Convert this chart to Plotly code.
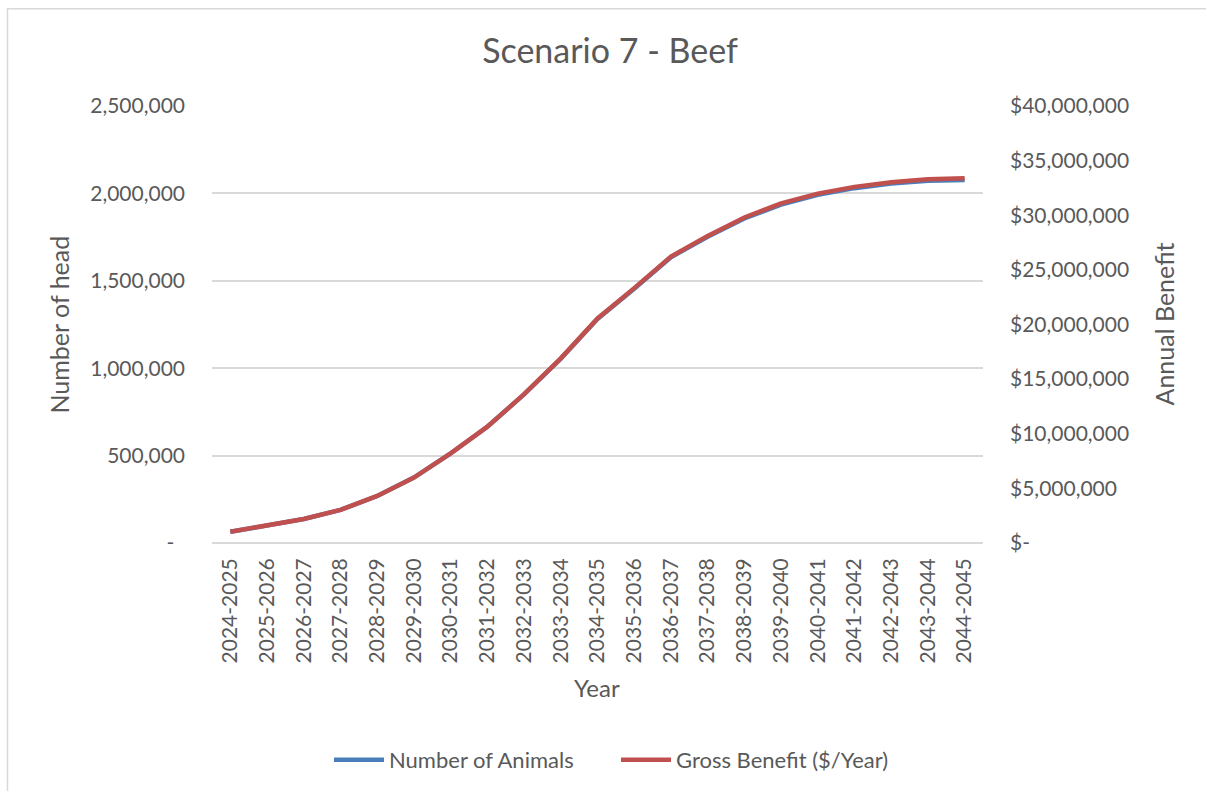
import plotly.graph_objects as go

years = ["2024-2025", "2025-2026", "2026-2027", "2027-2028", "2028-2029", "2029-2030",
         "2030-2031", "2031-2032", "2032-2033", "2033-2034", "2034-2035", "2035-2036",
         "2036-2037", "2037-2038", "2038-2039", "2039-2040", "2040-2041", "2041-2042",
         "2042-2043", "2043-2044", "2044-2045"]

animals = [64000, 98000, 137000, 189000, 269000, 374000, 512000, 665000, 850000,
           1055000, 1282000, 1455000, 1635000, 1752000, 1857000, 1936000, 1992000,
           2030000, 2056000, 2073000, 2077000]

benefit = [1030000, 1570000, 2200000, 3030000, 4310000, 5990000, 8200000, 10650000,
           13620000, 16900000, 20550000, 23330000, 26220000, 28110000, 29800000,
           31080000, 31980000, 32600000, 33020000, 33300000, 33380000]

left_ticks = [0, 500000, 1000000, 1500000, 2000000, 2500000]
left_text = ["-\u00a0\u00a0", "500,000", "1,000,000", "1,500,000", "2,000,000", "2,500,000"]
right_ticks = [0, 5000000, 10000000, 15000000, 20000000, 25000000, 30000000, 35000000, 40000000]
right_text = ["$-", "$5,000,000", "$10,000,000", "$15,000,000", "$20,000,000",
              "$25,000,000", "$30,000,000", "$35,000,000", "$40,000,000"]

FONT = "Lato"
TXT = "#595959"
GRID = "#D9D9D9"

fig = go.Figure()
fig.add_trace(go.Scatter(x=years, y=animals, name="Number of Animals", mode="lines",
                         line=dict(color="#4A7EBB", width=4.5), yaxis="y"))
fig.add_trace(go.Scatter(x=years, y=benefit, name="Gross Benefit ($/Year)", mode="lines",
                         line=dict(color="#C0504D", width=4.5), yaxis="y2"))

W, H = 1206, 791
L, R, T, B = 212, 223, 106, 247
ph = H - T - B
pw = W - L - R

def px2x(px):
    return (px - L) / pw

def py2y(py):
    return (H - B - py) / ph

fig.update_layout(
    width=W, height=H,
    margin=dict(l=L, r=R, t=T, b=B),
    paper_bgcolor="white", plot_bgcolor="white",
    font=dict(family=FONT, color=TXT, size=21),
    title=dict(text="Scenario 7 - Beef", x=610 / W, y=1 - 51 / H, xanchor="center",
               yanchor="middle", font=dict(size=34, color=TXT, family=FONT)),
    showlegend=True,
    legend=dict(orientation="h", x=px2x(329), y=py2y(760), xanchor="left", yanchor="middle",
                font=dict(size=22, color=TXT), itemwidth=50, entrywidth=222,
                bgcolor="rgba(0,0,0,0)"),
    xaxis=dict(type="category", range=[-0.5, len(years) - 0.5], tickangle=-90,
               showgrid=False, zeroline=False, showline=False, ticks="",
               tickfont=dict(size=21, color=TXT), ticklabelstandoff=10),
    yaxis=dict(range=[0, 2500000], tickvals=left_ticks, ticktext=left_text,
               showgrid=True, gridcolor=GRID, gridwidth=1.5, zeroline=True,
               zerolinecolor=GRID, zerolinewidth=1.5, showline=False, ticks="",
               tickfont=dict(size=21, color=TXT), ticklabelstandoff=26),
    yaxis2=dict(range=[0, 40000000], tickvals=right_ticks, ticktext=right_text,
                overlaying="y", side="right", showgrid=False, zeroline=False,
                showline=False, ticks="", tickfont=dict(size=21, color=TXT),
                ticklabelstandoff=26),
    annotations=[
        dict(text="Number of head", xref="paper", yref="paper", x=px2x(58), y=py2y(325),
             textangle=-90, showarrow=False, xanchor="center", yanchor="middle",
             font=dict(size=25, color=TXT)),
        dict(text="Annual Benefit", xref="paper", yref="paper", x=px2x(1163), y=py2y(325),
             textangle=-90, showarrow=False, xanchor="center", yanchor="middle",
             font=dict(size=25, color=TXT)),
        dict(text="Year", xref="paper", yref="paper", x=px2x(597), y=py2y(689),
             showarrow=False, xanchor="center", yanchor="middle",
             font=dict(size=24, color=TXT)),
    ],
    shapes=[
        dict(type="rect", xref="paper", yref="paper", x0=px2x(7.5), x1=px2x(1215),
             y0=py2y(800), y1=py2y(8.5), line=dict(color=GRID, width=1.5),
             fillcolor="rgba(0,0,0,0)", layer="below"),
    ],
)

fig.write_html("out.html")
